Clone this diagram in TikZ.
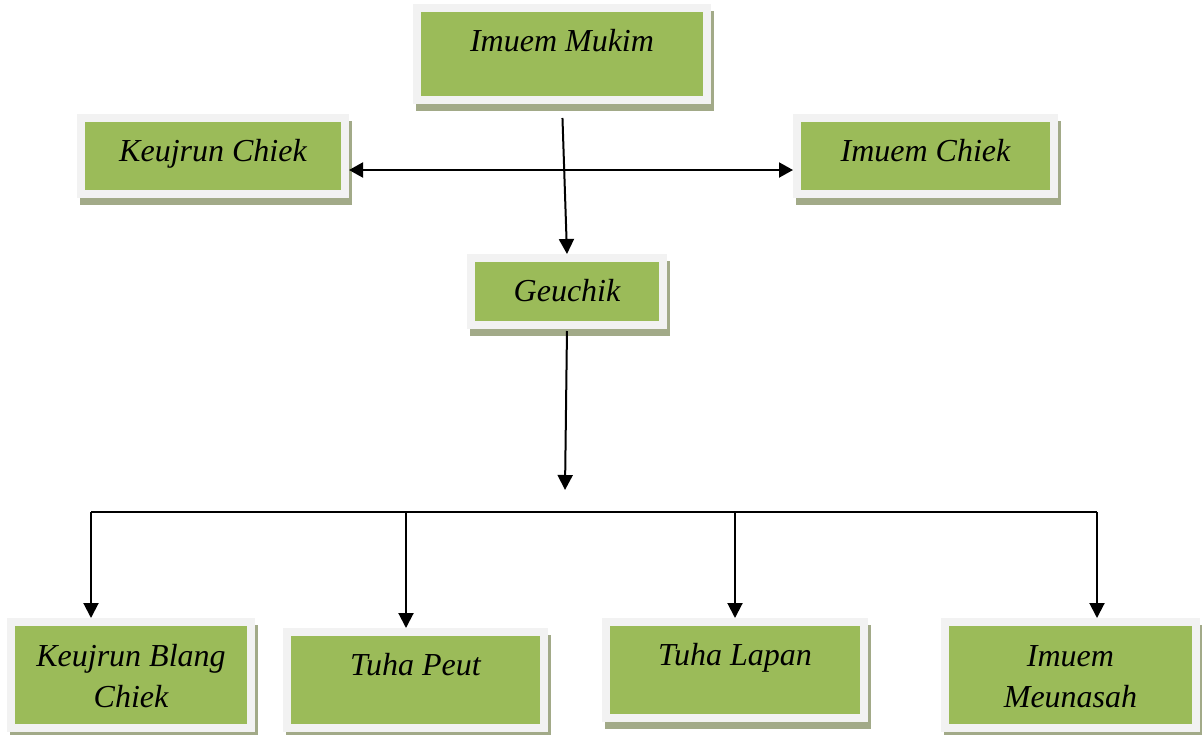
\documentclass[tikz,border=0pt]{standalone}
\usepackage{fontspec}
\setmainfont{Liberation Serif}
\usetikzlibrary{arrows.meta,positioning,shadows,calc}
\definecolor{boxgreen}{HTML}{9BBB59}
\definecolor{boxrim}{HTML}{F2F2F2}
\definecolor{boxshade}{HTML}{A2AA88}

\begin{document}
\begin{tikzpicture}[x=1pt, y=-1pt,
    orgbox/.style={fill=boxgreen, draw=boxrim, line width=8pt, anchor=north, inner xsep=0pt, inner ysep=0pt, text height=43pt, align=center, font=\itshape\fontsize{32}{41}\selectfont,
        drop shadow={shadow xshift=3pt, shadow yshift=-7pt, fill=boxshade, draw=boxshade, line width=8pt, opacity=1}},
    link/.style={line width=2pt},
    arr/.style={link, -{Triangle[width=15pt,length=15pt]}},
    arrboth/.style={link, {Triangle[width=15pt,length=14pt]}-{Triangle[width=15pt,length=14pt]}}
]
    \useasboundingbox (0,0) rectangle (1202,734);

    % top levels
    \node[orgbox, minimum width=290pt, text depth=49pt] (mukim) at (562,4) {Imuem Mukim};
    \node[orgbox, minimum width=264pt, text depth=33pt] (kchiek) at (213,114) {Keujrun Chiek};
    \node[orgbox, minimum width=257pt, text depth=33pt] (ichiek) at (925.5,114) {Imuem Chiek};
    \node[orgbox, minimum width=192pt, text depth=24pt] (geuchik) at (567,254) {Geuchik};

    % bottom level (two-line boxes sit on their last line)
    \node[orgbox, minimum width=240pt, text height=85pt, text depth=21pt] (kblang) at (131,618) {Keujrun Blang\\Chiek};
    \node[orgbox, minimum width=257pt, text depth=53pt] (tpeut) at (415.5,628) {Tuha Peut};
    \node[orgbox, minimum width=258pt, text depth=53pt] (tlapan) at (735,618) {Tuha Lapan};
    \node[orgbox, minimum width=251pt, text height=85pt, text depth=21pt] (meunasah) at (1070.5,618) {Imuem\\Meunasah};

    \coordinate (side) at (566,170);
    \coordinate (split) at (565,490);
    \coordinate (barL) at (91,512);
    \coordinate (barR) at (1097,512);

    \draw[arr, shorten <=14pt] (mukim.south) -- (geuchik.north);
    \draw[arrboth] (kchiek.east |- side) -- (ichiek.west |- side);
    \draw[arr, shorten <=2pt] (geuchik.south) -- (split);
    \draw[link] (barL) -- (barR);

    \foreach \x/\n in {91/kblang, 406/tpeut, 735/tlapan, 1097/meunasah} {
        \draw[arr] (\x,512) -- (\x,512 |- \n.north);
    }
\end{tikzpicture}
\end{document}
